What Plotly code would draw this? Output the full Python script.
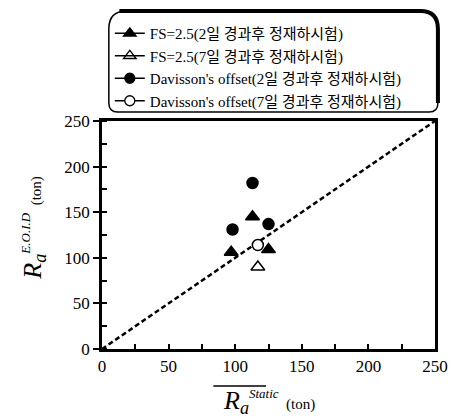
import plotly.graph_objects as go

# Pile capacity: end-of-initial-drive estimate vs. static load test (ton)
fs_2day_x = [97, 113, 125]
fs_2day_y = [106, 145, 109]
fs_7day_x = [117]
fs_7day_y = [90]
dav_2day_x = [98, 113, 125]
dav_2day_y = [131, 182, 137]
dav_7day_x = [117]
dav_7day_y = [114]

line_x = [0, 250]
line_y = [0, 250]

tick_vals = [0, 50, 100, 150, 200, 250]
tick_text = ["0", "50", "100", "150", "200", "250"]

names = [
    "FS=2.5(2일 경과후 정재하시험)",
    "FS=2.5(7일 경과후 정재하시험)",
    "Davisson's offset(2일 경과후 정재하시험)",
    "Davisson's offset(7일 경과후 정재하시험)",
]

SERIF = "Liberation Serif, Times New Roman, Noto Sans CJK KR, serif"

W, H = 460, 419
L, R, T, B = 102, 17, 121, 70

fig = go.Figure()

fig.add_trace(go.Scatter(x=line_x, y=line_y, mode="lines",
                         line=dict(color="black", width=2.5, dash="5px,3px"),
                         showlegend=False, hoverinfo="skip"))

series = [
    (fs_2day_x, fs_2day_y, "triangle-up", "black", 12),
    (fs_7day_x, fs_7day_y, "triangle-up-open", "black", 12),
    (dav_2day_x, dav_2day_y, "circle", "black", 11),
    (dav_7day_x, dav_7day_y, "circle", "white", 11),
]

for (xs, ys, sym, fill, size), name in zip(series, names):
    marker = dict(symbol=sym, size=size, color=fill,
                  line=dict(color="black", width=1.5))
    fig.add_trace(go.Scatter(x=xs, y=ys, mode="markers", marker=marker,
                             showlegend=False, name=name))
    # legend entry drawn as line + marker
    fig.add_trace(go.Scatter(x=[None], y=[None], mode="lines+markers",
                             marker=dict(symbol=sym, size=size - 1, color=fill,
                                         line=dict(color="black", width=1.3)),
                             line=dict(color="black", width=1.3),
                             name=name, showlegend=True))

axis_common = dict(
    range=[0, 250], showline=True, linewidth=2.5, linecolor="black",
    mirror=True, showgrid=False, zeroline=False,
    tickvals=tick_vals, ticktext=tick_text,
    tickfont=dict(family=SERIF, size=17, color="black"),
    tickwidth=2, tickcolor="black",
)

fig.update_xaxes(**axis_common, ticks="inside", ticklen=5,
                 minor=dict(dtick=25, ticks="inside", ticklen=5, tickwidth=2, tickcolor="black"))
fig.update_yaxes(**axis_common, ticks="outside", ticklen=6,
                 minor=dict(dtick=25, ticks="inside", ticklen=5, tickwidth=2, tickcolor="black"))

def px_x(p):
    return (p - L) / (W - L - R)

def px_y(p):
    return (H - B - p) / (H - T - B)

# rounded legend frame
x0, x1 = px_x(109), px_x(446)
y0, y1 = px_y(112), px_y(11)
rx = 18 / (W - L - R)
ry = 18 / (H - T - B)
frame = (f"M {x0+rx} {y1} L {x1-rx} {y1} Q {x1} {y1} {x1} {y1-ry} "
         f"L {x1} {y0+ry*0.5} Q {x1} {y0} {x1-rx*0.5} {y0} "
         f"L {x0+rx*0.5} {y0} Q {x0} {y0} {x0} {y0+ry*0.5} "
         f"L {x0} {y1-ry} Q {x0} {y1} {x0+rx} {y1} Z")
fig.add_shape(type="path", path=frame, xref="paper", yref="paper",
              line=dict(color="black", width=1.5))
thick = (f"M {x0+rx*0.6} {y1} L {x1-rx} {y1} Q {x1} {y1} {x1} {y1-ry} "
         f"L {x1} {y0+ry*0.5}")
fig.add_shape(type="path", path=thick, xref="paper", yref="paper",
              line=dict(color="black", width=4))

# axis titles
fig.add_annotation(
    text=('<i>R<sub>a</sub></i><sup><span style="font-size:13px"><i>Static</i></span></sup>'
          '<span style="font-size:15px">  (ton)</span>'),
    xref="paper", yref="paper", x=0.5, y=px_y(402), showarrow=False,
    font=dict(family=SERIF, size=26, color="black"), xanchor="center", yanchor="middle")
fig.add_shape(type="line", xref="paper", yref="paper",
              x0=px_x(216), x1=px_x(270), y0=px_y(386), y1=px_y(386),
              line=dict(color="black", width=1.5))

fig.add_annotation(
    text=('<i>R<sub>a</sub></i><sup><span style="font-size:13px"><i>E.O.I.D</i></span></sup>'
          '<span style="font-size:15px">  (ton)</span>'),
    xref="paper", yref="paper", x=px_x(32), y=px_y(228), showarrow=False,
    textangle=-90,
    font=dict(family=SERIF, size=26, color="black"), xanchor="center", yanchor="middle")

fig.update_layout(
    width=W, height=H,
    margin=dict(l=L, r=R, t=T, b=B),
    paper_bgcolor="white", plot_bgcolor="white",
    showlegend=True,
    legend=dict(x=px_x(110), y=px_y(17), xanchor="left", yanchor="top",
                bgcolor="rgba(0,0,0,0)", borderwidth=0,
                font=dict(family=SERIF, size=15, color="black"),
                itemwidth=30, tracegroupgap=0),
)

fig.write_html("out.html")
